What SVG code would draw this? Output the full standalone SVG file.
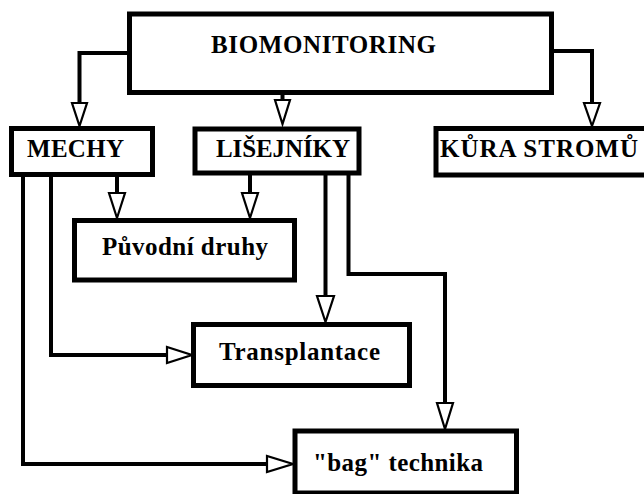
<svg xmlns="http://www.w3.org/2000/svg" width="644" height="494" viewBox="0 0 644 494">
<style>
.box{fill:#fff;stroke:#000;stroke-width:5}
.lbl{font-family:"Liberation Serif","Times New Roman",serif;font-weight:bold;font-size:25px;fill:#000}
.ln{fill:none;stroke:#000;stroke-width:4;stroke-linejoin:miter}
.ah{fill:#fff;stroke:#000;stroke-width:2.2;stroke-linejoin:miter}
</style>
<rect width="644" height="494" fill="#fff"/>
<g id="connectors">
<path class="ln" d="M129.5,53 H79.5 V103"/>
<polygon class="ah" points="72,103 87,103 79.5,126"/>
<path class="ln" d="M282.5,92 V100"/>
<polygon class="ah" points="275,100 290,100 282.5,124"/>
<path class="ln" d="M551.5,51 H592 V103"/>
<polygon class="ah" points="584,103 600,103 592,126"/>
<path class="ln" d="M117,175 V193"/>
<polygon class="ah" points="109,193 125,193 117,218"/>
<path class="ln" d="M250,173 V193"/>
<polygon class="ah" points="242,193 258,193 250,218"/>
<path class="ln" d="M325.5,173 V296"/>
<polygon class="ah" points="317,296 334,296 325.5,322"/>
<path class="ln" d="M348.5,173 V274 H445 V403"/>
<polygon class="ah" points="437,403 453,403 445,429"/>
<path class="ln" d="M51,175 V355 H167"/>
<polygon class="ah" points="167,347 167,363 192,355"/>
<path class="ln" d="M23,175 V464 H267"/>
<polygon class="ah" points="267,456 267,472 293,464"/>
</g>
<g id="biomonitoring">
<rect class="box" x="129.5" y="14" width="422" height="78.5"/>
<text class="lbl" x="211" y="53" textLength="225">BIOMONITORING</text>
</g>
<g id="mechy">
<rect class="box" x="11.5" y="128.5" width="141" height="46"/>
<text class="lbl" x="27" y="157" textLength="97">MECHY</text>
</g>
<g id="lisejniky">
<rect class="box" x="195" y="129" width="164" height="44"/>
<text class="lbl" x="216" y="157" textLength="134">LIŠEJNÍKY</text>
</g>
<g id="kura">
<rect class="box" x="436" y="128.5" width="220" height="46.5"/>
<text class="lbl" x="440" y="157" textLength="198">KŮRA STROMŮ</text>
</g>
<g id="puvodni">
<rect class="box" x="74.5" y="220.5" width="220" height="59.5"/>
<text class="lbl" x="102" y="255" textLength="166">Původní druhy</text>
</g>
<g id="transplantace">
<rect class="box" x="193.5" y="324.5" width="216" height="61"/>
<text class="lbl" x="219" y="360" textLength="161">Transplantace</text>
</g>
<g id="bag">
<rect class="box" x="295" y="431" width="221.5" height="62"/>
<text class="lbl" x="313" y="471" textLength="170">"bag" technika</text>
</g>
</svg>
